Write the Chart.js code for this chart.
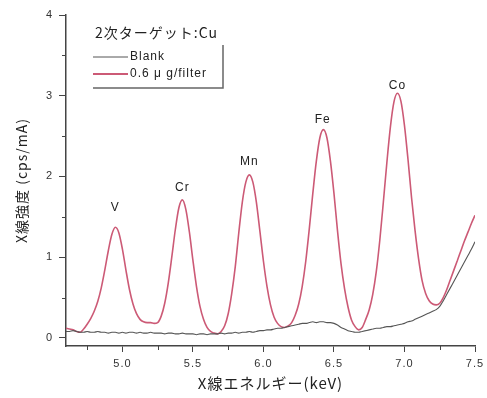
<!DOCTYPE html>
<html>
<head>
<meta charset="utf-8">
<script src="https://cdn.jsdelivr.net/npm/chart.js@4/dist/chart.umd.min.js"></script>
<style>
  html, body { margin: 0; padding: 0; background: #fff; }
  #wrap { width: 487px; height: 398px; }
</style>
</head>
<body>
<div id="wrap"><canvas id="spectrumChart" width="487" height="398"></canvas></div>
<script>
// X-ray energy grid (keV)
const energy = [
    4.600, 4.625, 4.650, 4.675, 4.700, 4.725, 4.750, 4.775, 4.800, 4.825, 4.850, 4.875, 4.900, 4.925, 4.950, 4.975,
    5.000, 5.025, 5.050, 5.075, 5.100, 5.125, 5.150, 5.175, 5.200, 5.225,
    5.250, 5.275, 5.300, 5.325, 5.350, 5.375, 5.400, 5.425, 5.450, 5.475,
    5.500, 5.525, 5.550, 5.575, 5.600, 5.625, 5.650, 5.675, 5.700, 5.725,
    5.750, 5.775, 5.800, 5.825, 5.850, 5.875, 5.900, 5.925, 5.950, 5.975,
    6.000, 6.025, 6.050, 6.075, 6.100, 6.125, 6.150, 6.175, 6.200, 6.225,
    6.250, 6.275, 6.300, 6.325, 6.350, 6.375, 6.400, 6.425, 6.450, 6.475,
    6.500, 6.525, 6.550, 6.575, 6.600, 6.625, 6.650, 6.675, 6.700, 6.725,
    6.750, 6.775, 6.800, 6.825, 6.850, 6.875, 6.900, 6.925, 6.950, 6.975,
    7.000, 7.025, 7.050, 7.075, 7.100, 7.125, 7.150, 7.175, 7.200, 7.225,
    7.250, 7.275, 7.300, 7.325, 7.350, 7.375, 7.400, 7.425, 7.450, 7.475, 7.500
];

// 0.6 ug/filter sample (cps/mA)
const sampleIntensity = [
    0.12, 0.11, 0.10, 0.08, 0.07, 0.11, 0.17, 0.24, 0.33, 0.45, 0.62, 0.84, 1.08, 1.28, 1.37, 1.30,
    1.10, 0.84, 0.60, 0.42, 0.30, 0.23, 0.20, 0.19, 0.19, 0.18,
    0.19, 0.27, 0.43, 0.68, 1.00, 1.34, 1.61, 1.71, 1.59, 1.31,
    0.96, 0.64, 0.39, 0.23, 0.13, 0.08, 0.06, 0.05, 0.08, 0.15,
    0.30, 0.55, 0.88, 1.30, 1.68, 1.93, 2.02, 1.93, 1.68, 1.32,
    0.95, 0.64, 0.41, 0.26, 0.18, 0.14, 0.13, 0.15, 0.19, 0.28,
    0.42, 0.64, 0.95, 1.35, 1.79, 2.19, 2.48, 2.58, 2.48, 2.19,
    1.79, 1.33, 0.92, 0.61, 0.38, 0.22, 0.14, 0.10, 0.13, 0.23,
    0.35, 0.54, 0.82, 1.21, 1.68, 2.17, 2.61, 2.92, 3.03, 2.93,
    2.63, 2.21, 1.74, 1.33, 0.98, 0.71, 0.55, 0.46, 0.42, 0.41,
    0.43, 0.50, 0.60, 0.72, 0.84, 0.96, 1.08, 1.20, 1.31, 1.42, 1.52
];

// Blank filter (cps/mA)
const blankIntensity = [
    0.08, 0.08, 0.09, 0.08, 0.07, 0.07, 0.08, 0.07, 0.07, 0.08, 0.07, 0.07, 0.06, 0.07, 0.07, 0.06,
    0.07, 0.06, 0.07, 0.07, 0.06, 0.07, 0.06, 0.06, 0.07, 0.06,
    0.06, 0.06, 0.05, 0.06, 0.06, 0.05, 0.05, 0.06, 0.05, 0.05,
    0.05, 0.04, 0.05, 0.05, 0.04, 0.05, 0.05, 0.05, 0.06, 0.05,
    0.06, 0.06, 0.07, 0.06, 0.07, 0.07, 0.08, 0.07, 0.08, 0.09,
    0.09, 0.10, 0.10, 0.11, 0.12, 0.12, 0.13, 0.14, 0.15, 0.16,
    0.17, 0.18, 0.18, 0.19, 0.20, 0.19, 0.20, 0.20, 0.19, 0.19,
    0.18, 0.16, 0.13, 0.11, 0.09, 0.08, 0.07, 0.07, 0.08, 0.09,
    0.10, 0.11, 0.12, 0.12, 0.13, 0.14, 0.14, 0.15, 0.16, 0.17,
    0.18, 0.20, 0.21, 0.23, 0.25, 0.27, 0.29, 0.31, 0.33, 0.35,
    0.39, 0.46, 0.54, 0.62, 0.70, 0.78, 0.86, 0.94, 1.02, 1.10, 1.19
];

// Peak labels
const peakNames = ['V', 'Cr', 'Mn', 'Fe', 'Co'];
const peakEnergy = [4.95, 5.425, 5.90, 6.42, 6.95];
const peakLabelY = [1.61, 1.86, 2.18, 2.70, 3.13];

// Axis ticks
const xTicks = [5.0, 5.5, 6.0, 6.5, 7.0, 7.5];
const xMinorTicks = [4.75, 5.25, 5.75, 6.25, 6.75, 7.25];
const yTicks = [0, 1, 2, 3, 4];
const yMinorTicks = [0.5, 1.5, 2.5, 3.5];

const legendTitle = '2次ターゲット:Cu';
const seriesNames = ['Blank', '0.6 μ g/filter'];

const blankColor = '#555555';
const sampleColor = '#cc5a76';
const axisColor = '#444444';
const jpFont = '"Noto Sans CJK JP", "Noto Sans", sans-serif';
const latinFont = '"Liberation Sans", Arial, sans-serif';

function toPoints(ys) {
    return ys.map((y, i) => ({ x: energy[i], y: y }));
}

// the reference lettering is set a little wide
const spacingPlugin = {
    id: 'spacing',
    beforeLayout(chart) { chart.ctx.letterSpacing = '1px'; },
    beforeDraw(chart) { chart.ctx.letterSpacing = '1px'; }
};

// short minor ticks, peak labels and the boxed legend
const extrasPlugin = {
    id: 'extras',
    afterDraw(chart) {
        const ctx = chart.ctx;
        const xs = chart.scales.x;
        const ys = chart.scales.y;
        const area = chart.chartArea;
        ctx.save();

        ctx.strokeStyle = axisColor;
        ctx.lineWidth = 1;
        xMinorTicks.forEach(v => {
            const px = Math.round(xs.getPixelForValue(v)) + 0.5;
            ctx.beginPath();
            ctx.moveTo(px, area.bottom);
            ctx.lineTo(px, area.bottom + 4);
            ctx.stroke();
        });
        yMinorTicks.forEach(v => {
            const py = Math.round(ys.getPixelForValue(v)) + 0.5;
            ctx.beginPath();
            ctx.moveTo(area.left, py);
            ctx.lineTo(area.left - 4, py);
            ctx.stroke();
        });

        ctx.fillStyle = '#222';
        ctx.font = '12px ' + latinFont;
        ctx.textAlign = 'center';
        ctx.textBaseline = 'middle';
        peakNames.forEach((name, i) => {
            ctx.fillText(name, xs.getPixelForValue(peakEnergy[i]), ys.getPixelForValue(peakLabelY[i]));
        });

        // legend
        const lx = area.left + 27;
        const ly = area.top + 18;
        ctx.fillStyle = '#222';
        ctx.font = '14px ' + jpFont;
        ctx.textAlign = 'left';
        ctx.fillText(legendTitle, lx + 2, ly);

        const colors = [blankColor, sampleColor];
        const widths = [1, 1.8];
        ctx.font = '12px ' + latinFont;
        seriesNames.forEach((name, i) => {
            const rowY = ly + 24 + i * 17;
            ctx.strokeStyle = colors[i];
            ctx.lineWidth = widths[i];
            ctx.beginPath();
            ctx.moveTo(lx, rowY);
            ctx.lineTo(lx + 35, rowY);
            ctx.stroke();
            ctx.fillStyle = '#222';
            ctx.fillText(name, lx + 37, rowY);
        });

        ctx.strokeStyle = '#666';
        ctx.lineWidth = 1.5;
        ctx.beginPath();
        ctx.moveTo(lx + 130, ly + 12);
        ctx.lineTo(lx + 130, ly + 55);
        ctx.lineTo(lx, ly + 55);
        ctx.stroke();

        ctx.restore();
    }
};

const ctx = document.getElementById('spectrumChart').getContext('2d');
const spectrumChart = new Chart(ctx, {
    type: 'line',
    data: {
        datasets: [
            {
                label: seriesNames[0],
                data: toPoints(blankIntensity),
                borderColor: blankColor,
                borderWidth: 1.1,
                pointRadius: 0,
                cubicInterpolationMode: 'monotone'
            },
            {
                label: seriesNames[1],
                data: toPoints(sampleIntensity),
                borderColor: sampleColor,
                borderWidth: 1.6,
                pointRadius: 0,
                cubicInterpolationMode: 'monotone'
            }
        ]
    },
    options: {
        responsive: false,
        animation: false,
        events: [],
        layout: {
            padding: { top: 15, right: 12, left: 0, bottom: 0 }
        },
        plugins: {
            legend: { display: false },
            tooltip: { enabled: false }
        },
        scales: {
            x: {
                type: 'linear',
                min: 4.6,
                max: 7.5,
                afterBuildTicks: scale => { scale.ticks = xTicks.map(v => ({ value: v })); },
                afterFit: scale => {
                    scale.height = 52;
                    scale.paddingRight = 0;
                    scale.paddingLeft = 0;
                },
                border: { display: true, color: axisColor, width: 1.5 },
                grid: { drawOnChartArea: false, drawTicks: true, tickLength: 6, color: axisColor },
                ticks: {
                    color: '#333',
                    padding: 5,
                    maxRotation: 0,
                    font: { family: latinFont, size: 11 },
                    callback: v => Number(v).toFixed(1)
                },
                title: {
                    display: true,
                    text: 'X線エネルギー(keV)',
                    color: '#222',
                    font: { family: jpFont, size: 15 },
                    padding: { top: 0, bottom: 6 }
                }
            },
            y: {
                min: -0.1,
                max: 4,
                afterBuildTicks: scale => { scale.ticks = yTicks.map(v => ({ value: v })); },
                afterFit: scale => { scale.width = 66; },
                border: { display: true, color: axisColor, width: 1.5 },
                grid: { drawOnChartArea: false, drawTicks: true, tickLength: 7, color: axisColor },
                ticks: {
                    color: '#333',
                    padding: 6,
                    font: { family: latinFont, size: 11 },
                    callback: v => String(v)
                },
                title: {
                    display: true,
                    text: 'X線強度 (cps/mA)',
                    color: '#222',
                    font: { family: jpFont, size: 14 },
                    padding: { top: 13, bottom: 0 }
                }
            }
        }
    },
    plugins: [spacingPlugin, extrasPlugin]
});
</script>
</body>
</html>
